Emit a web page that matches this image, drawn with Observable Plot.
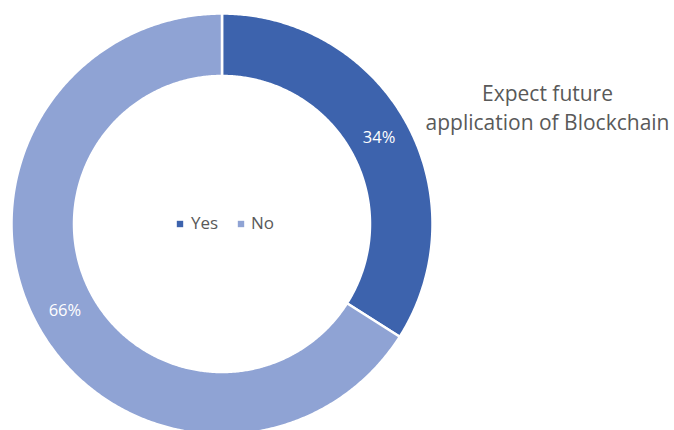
<!DOCTYPE html>
<html><head><meta charset="utf-8">
<script src="https://cdn.jsdelivr.net/npm/d3@7"></script>
<script src="https://cdn.jsdelivr.net/npm/@observablehq/plot@0.6"></script>
<style>body{margin:0;background:#fff}</style>
</head><body><div id="chart"></div>
<script>
const categories = ["Yes", "No"];
const values = [34, 66];
const colors = ["#3d63ad", "#8fa3d4"];
const titleText = "Expect future\napplication of Blockchain";

const W = 674, H = 430;
const cx = 221.5, cy = 223.5, R = 210.5, rIn = 148 / 210.5;
const total = d3.sum(values);

// build slice polygons in unit coordinates (angle clockwise from top)
const polys = [];
const labels = [];
let acc = 0;
categories.forEach((c, i) => {
  const a0 = acc / total * 2 * Math.PI;
  acc += values[i];
  const a1 = acc / total * 2 * Math.PI;
  const n = Math.max(2, Math.ceil((a1 - a0) / (Math.PI / 360)));
  for (let k = 0; k <= n; k++) {
    const a = a0 + (a1 - a0) * k / n;
    polys.push({cat: c, x: Math.sin(a), y: Math.cos(a)});
  }
  for (let k = n; k >= 0; k--) {
    const a = a0 + (a1 - a0) * k / n;
    polys.push({cat: c, x: rIn * Math.sin(a), y: rIn * Math.cos(a)});
  }
  polys.push({cat: c, x: Math.sin(a0), y: Math.cos(a0)});
  const am = (a0 + a1) / 2, rl = (1 + rIn) / 2;
  labels.push({cat: c, x: rl * Math.sin(am), y: rl * Math.cos(am), text: values[i] + "%"});
});

// legend items placed in the donut hole
const legendSq = [-42, 19];
const legendTx = [-31, 29];
const legend = categories.map((c, i) => ({cat: c, x: 0, y: 0, sq: legendSq[i], tx: legendTx[i]}));

const chart = Plot.plot({
  width: W, height: H,
  margin: 0,
  style: {fontFamily: "Open Sans, sans-serif", background: "#fff"},
  x: {domain: [-cx / R, (W - cx) / R], range: [0, W], axis: null},
  y: {domain: [-(H - cy) / R, cy / R], range: [H, 0], axis: null},
  color: {domain: categories, range: colors},
  marks: [
    Plot.line(polys, {x: "x", y: "y", z: "cat", fill: "cat", stroke: "white", strokeWidth: 2.5, curve: "linear"}),
    Plot.text(labels, {x: "x", y: "y", text: "text", fill: "white", fontSize: 16.5}),
    ...legend.map(d => Plot.dot([d], {x: "x", y: "y", dx: d.sq, fill: "cat", symbol: "square", r: 3.6, stroke: null})),
    ...legend.map(d => Plot.text([d], {x: "x", y: "y", dx: d.tx, text: "cat", textAnchor: "start", fill: "#595959", fontSize: 17})),
    Plot.text([titleText], {frameAnchor: "top-right", dx: -127, dy: 80, text: d => d, fontSize: 21, fill: "#595959", textAnchor: "middle", lineAnchor: "top", lineHeight: 1.38})
  ]
});
document.getElementById("chart").appendChild(chart);
</script>
</body></html>
